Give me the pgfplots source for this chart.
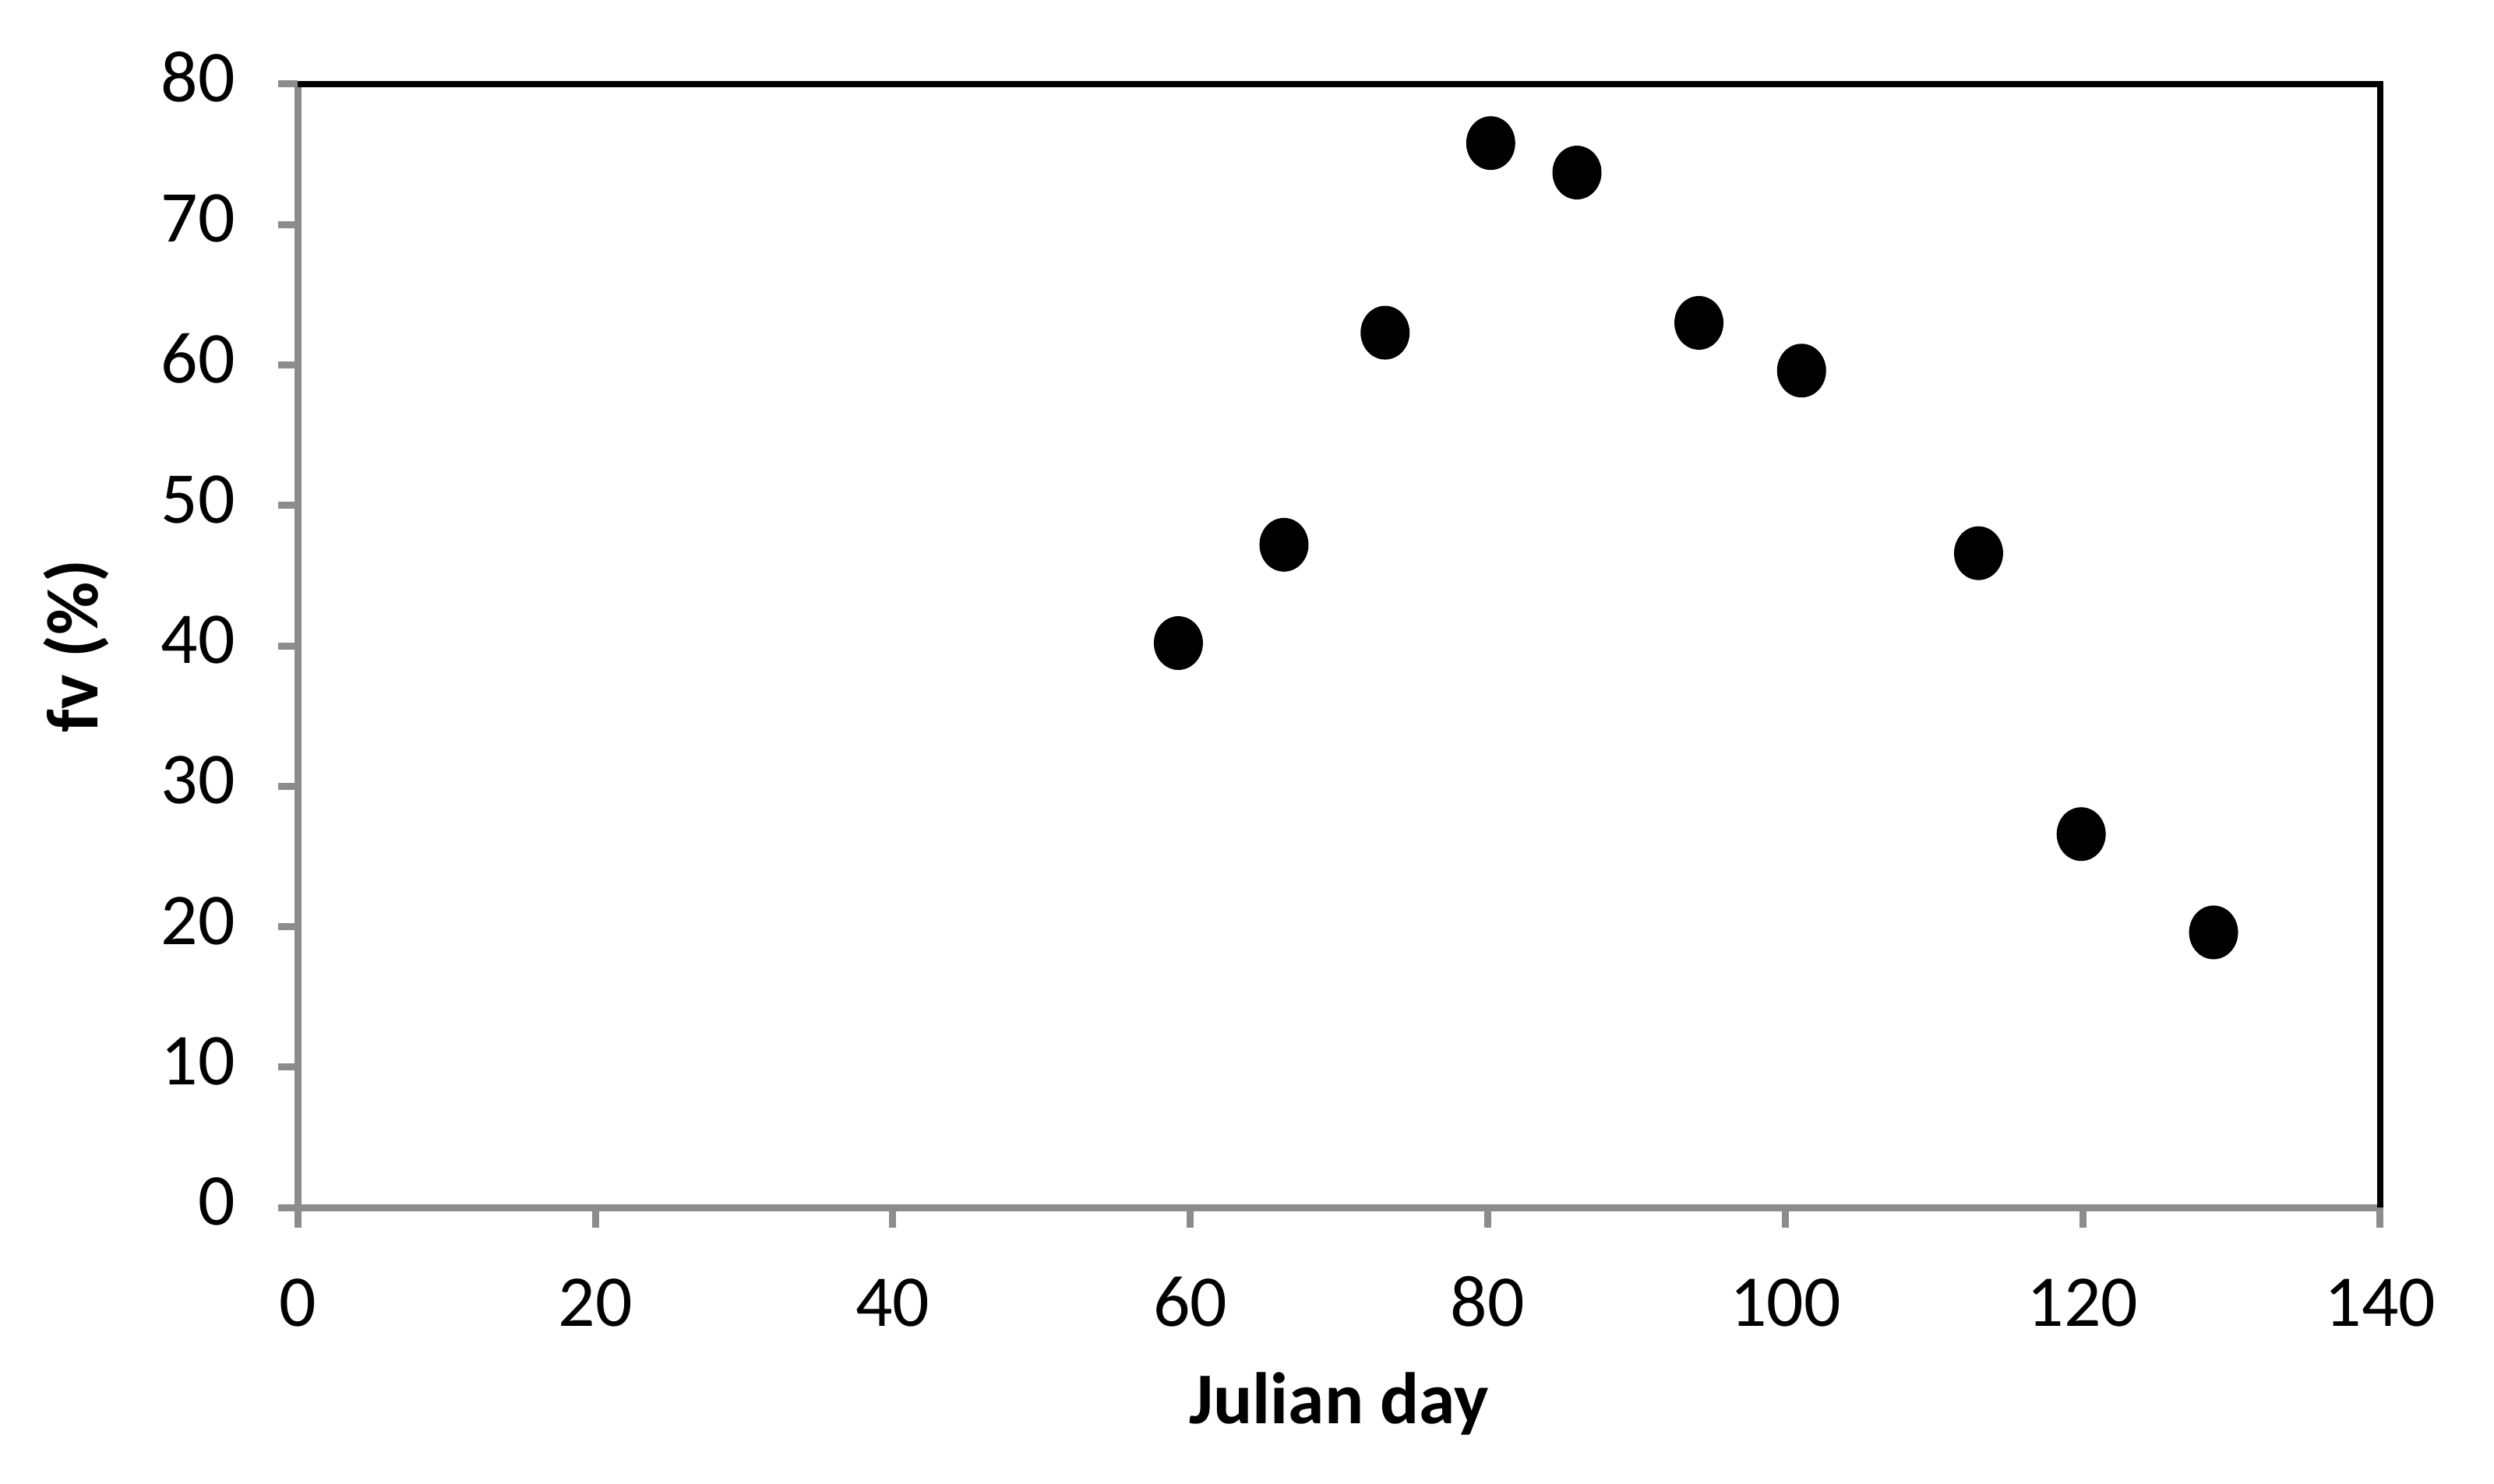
\documentclass[border=0pt]{standalone}
\usepackage{pgfplots}
\pgfplotsset{compat=1.18}
\usepackage{fontspec}
\setmainfont{Carlito}
\definecolor{axgray}{RGB}{140,140,140}
\begin{document}
\fontsize{12.5pt}{15pt}\selectfont
\begin{tikzpicture}
\useasboundingbox (-51pt,-47.2pt) rectangle (376pt,206.8pt);
\begin{axis}[
  scale only axis,
  width=356.5pt, height=192.4pt,
  xmin=0, xmax=140, ymin=0, ymax=80,
  xtick={0,20,...,140}, ytick={0,10,...,80},
  axis x line*=bottom, axis y line*=left,
  axis line style={axgray, line width=1.2pt, -},
  tick align=outside,
  major tick length=3.4pt,
  tick style={axgray, line width=1.2pt},
  typeset ticklabels with strut,
  x tick label style={font=\fontsize{12.5pt}{15pt}\selectfont, yshift=-2pt},
  y tick label style={font=\fontsize{12.5pt}{15pt}\selectfont, xshift=-3pt},
  /pgf/number format/assume math mode=true,
  xlabel={\textbf{Julian day}},
  ylabel={\textbf{fv (\%)}},
  xlabel style={font=\fontsize{12.5pt}{15pt}\selectfont, at={(axis description cs:0.5,0)}, anchor=center, yshift=-33.6pt},
  ylabel style={font=\fontsize{12.5pt}{15pt}\selectfont, at={(axis description cs:0,0.5)}, anchor=center, yshift=38pt},
  clip=false,
]
\addplot[only marks, mark=*, mark size=4pt, mark options={fill=black, draw=black, yscale=1.1}]
coordinates {
(59.2,40.2) (66.3,47.2) (73.1,62.3) (80.2,75.8) (86.0,73.7)
(94.2,63.0) (101.1,59.6) (113.0,46.6) (119.9,26.6) (128.8,19.6)
};
\draw[black, line width=1.1pt] (rel axis cs:0,1) -- (rel axis cs:1,1) -- (rel axis cs:1,0);
\end{axis}
\end{tikzpicture}
\end{document}
